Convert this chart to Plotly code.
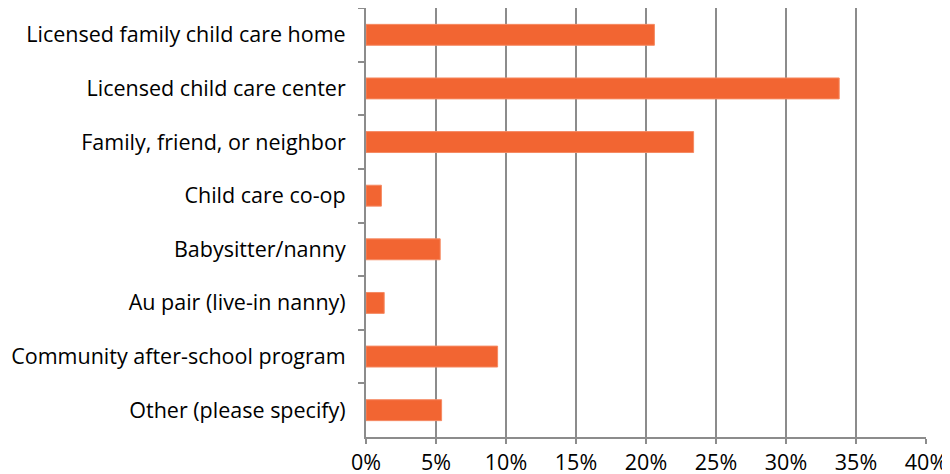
import plotly.graph_objects as go

categories = [
    "Licensed family child care home",
    "Licensed child care center",
    "Family, friend, or neighbor",
    "Child care co-op",
    "Babysitter/nanny",
    "Au pair (live-in nanny)",
    "Community after-school program",
    "Other (please specify)",
]
values = [0.206, 0.338, 0.234, 0.011, 0.053, 0.013, 0.094, 0.054]
tick_vals = [0, 0.05, 0.10, 0.15, 0.20, 0.25, 0.30, 0.35, 0.40]
tick_text = ["0%", "5%", "10%", "15%", "20%", "25%", "30%", "35%", "40%"]

fig = go.Figure(go.Bar(
    y=categories,
    x=values,
    orientation="h",
    marker=dict(color="#F26532", line=dict(color="#F58A63", width=1)),
))

# page body adds an 8px offset, so the margins are compensated
fig.update_layout(
    width=950, height=474,
    margin=dict(l=358, r=32, t=0, b=45),
    plot_bgcolor="white", paper_bgcolor="white",
    font=dict(family="Open Sans", size=21.5, color="#000"),
    bargap=0.61,
    showlegend=False,
)
fig.update_xaxes(
    range=[0, 0.40], tickvals=tick_vals, ticktext=tick_text,
    showgrid=True, gridcolor="#8c8c8c", gridwidth=2,
    showline=True, linecolor="#8c8c8c", linewidth=2,
    ticks="outside", ticklen=5, tickcolor="#8c8c8c", tickwidth=2,
    zeroline=False, fixedrange=True, automargin=False,
)
fig.update_yaxes(
    autorange="reversed",
    showline=True, linecolor="#8c8c8c", linewidth=2,
    ticks="outside", ticklen=6, tickcolor="#8c8c8c", tickwidth=2,
    tickson="boundaries", ticklabelstandoff=14,
    showgrid=False, fixedrange=True, automargin=False,
)

fig.write_html("out.html")
